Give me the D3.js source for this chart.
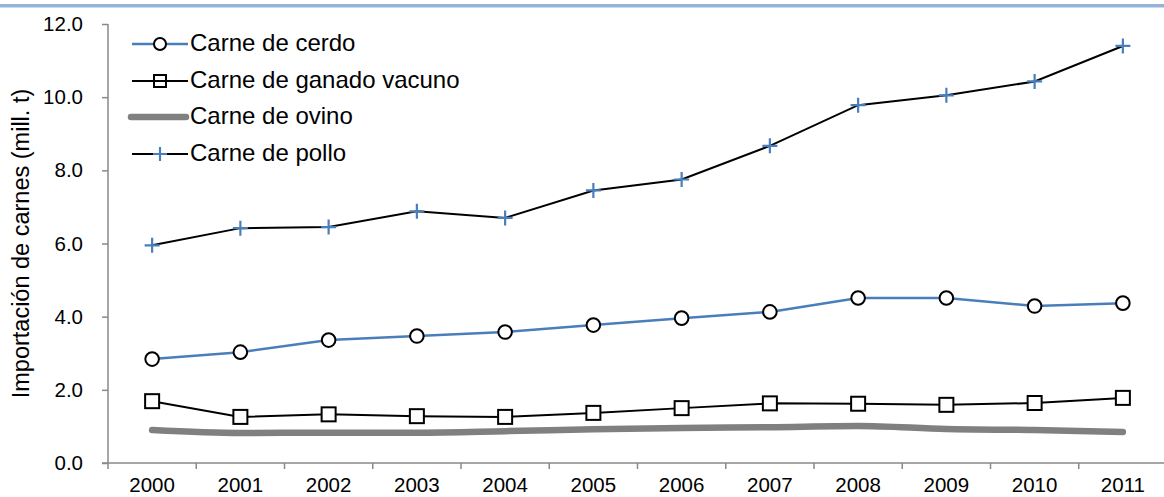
<!DOCTYPE html>
<html>
<head>
<meta charset="utf-8">
<script src="https://d3js.org/d3.v7.min.js"></script>
<style>
    body { margin: 0; background: #fff; }
    svg { display: block; font-family: "Liberation Sans", Arial, sans-serif; }
</style>
</head>
<body>
<div id="chart"></div>
<script>
    // data
    var years = ["2000", "2001", "2002", "2003", "2004", "2005", "2006", "2007", "2008", "2009", "2010", "2011"];
    var cerdo = [2.84, 3.03, 3.36, 3.47, 3.58, 3.77, 3.96, 4.13, 4.51, 4.51, 4.29, 4.37];
    var vacuno = [1.69, 1.26, 1.33, 1.28, 1.26, 1.37, 1.50, 1.63, 1.62, 1.59, 1.64, 1.78];
    var ovino = [0.90, 0.82, 0.83, 0.83, 0.87, 0.92, 0.96, 0.98, 1.01, 0.93, 0.90, 0.85];
    var pollo = [5.95, 6.42, 6.45, 6.88, 6.70, 7.45, 7.75, 8.67, 9.78, 10.05, 10.43, 11.40];
    var yTicks = [0, 2, 4, 6, 8, 10, 12];
    var seriesNames = ["Carne de cerdo", "Carne de ganado vacuno", "Carne de ovino", "Carne de pollo"];

    var width = 1164, height = 497;
    var margin = {top: 24, left: 108, bottom: 34};
    var plotRight = 1167;

    var svg = d3.select("#chart").append("svg")
        .attr("width", width)
        .attr("height", height);

    // blue band along the top
    svg.append("rect")
        .attr("x", 0).attr("y", 4)
        .attr("width", width).attr("height", 3.5)
        .attr("fill", "#95b3d7");

    var x = d3.scaleBand()
        .domain(years)
        .range([margin.left, plotRight]);

    var y = d3.scaleLinear()
        .domain([0, 12])
        .range([height - margin.bottom, margin.top]);

    var axisColor = "#898989";

    // y axis
    var yAxis = svg.append("g")
        .attr("transform", `translate(${margin.left},0)`)
        .call(d3.axisLeft(y).tickValues(yTicks).tickFormat(d3.format(".1f")).tickSize(6).tickPadding(19));
    yAxis.select(".domain").attr("stroke", axisColor).attr("stroke-width", 1.5).attr("d", `M0,${y(12)}V${y(0)}`);
    yAxis.selectAll(".tick line").attr("stroke", axisColor).attr("stroke-width", 1.5);
    yAxis.selectAll(".tick text")
        .attr("font-size", 20.5).attr("fill", "#000")
        .attr("font-family", "Liberation Sans, Arial, sans-serif");

    // x axis, ticks between categories
    var bounds = d3.range(years.length + 1).map(i => margin.left + i * x.bandwidth());
    var xg = svg.append("g");
    xg.append("line")
        .attr("x1", margin.left - 6).attr("x2", width)
        .attr("y1", y(0)).attr("y2", y(0))
        .attr("stroke", axisColor).attr("stroke-width", 1.5);
    xg.selectAll(".xt").data(bounds).join("line")
        .attr("x1", d => d).attr("x2", d => d)
        .attr("y1", y(0)).attr("y2", y(0) + 6)
        .attr("stroke", axisColor).attr("stroke-width", 1.5);
    xg.selectAll(".xl").data(years).join("text")
        .attr("x", d => x(d) + x.bandwidth() / 2)
        .attr("y", y(0) + 29)
        .attr("text-anchor", "middle")
        .attr("font-size", 20.5)
        .text(d => d);

    // y label
    svg.append("text")
        .attr("transform", `translate(29,${(y(0) + y(12)) / 2}) rotate(-90)`)
        .attr("text-anchor", "middle")
        .attr("font-size", 23.5)
        .text("Importación de carnes (mill. t)");

    var cx = (d, i) => x(years[i]) + x.bandwidth() / 2;
    var line = d3.line().x(cx).y(d => y(d));

    // ovino, thick smooth grey
    svg.append("path")
        .datum(ovino)
        .attr("d", d3.line().x(cx).y(d => y(d)).curve(d3.curveMonotoneX))
        .attr("fill", "none")
        .attr("stroke", "#808080")
        .attr("stroke-width", 6.5)
        .attr("stroke-linecap", "round");

    // vacuno
    svg.append("path").datum(vacuno).attr("d", line)
        .attr("fill", "none").attr("stroke", "#000").attr("stroke-width", 2);
    svg.selectAll(".sq").data(vacuno).join("rect")
        .attr("x", (d, i) => cx(d, i) - 7).attr("y", d => y(d) - 7)
        .attr("width", 14).attr("height", 14)
        .attr("fill", "#fff").attr("stroke", "#000").attr("stroke-width", 2);

    // cerdo
    svg.append("path").datum(cerdo).attr("d", line)
        .attr("fill", "none").attr("stroke", "#4a7ebb").attr("stroke-width", 2.5);
    svg.selectAll(".ci").data(cerdo).join("circle")
        .attr("cx", cx).attr("cy", d => y(d)).attr("r", 6.8)
        .attr("fill", "#fff").attr("stroke", "#000").attr("stroke-width", 2);

    // pollo
    svg.append("path").datum(pollo).attr("d", line)
        .attr("fill", "none").attr("stroke", "#000").attr("stroke-width", 2);
    svg.selectAll(".pl").data(pollo).join("path")
        .attr("d", (d, i) => `M${cx(d, i) - 7.5},${y(d)}h15M${cx(d, i)},${y(d) - 7.5}v15`)
        .attr("stroke", "#4a7ebb").attr("stroke-width", 2.2);

    // legend
    var lx0 = 132, lx1 = 188, lm = 160;
    var rows = [44, 81, 117, 154];
    var leg = svg.append("g");
    // cerdo
    leg.append("line").attr("x1", lx0).attr("x2", lx1).attr("y1", rows[0]).attr("y2", rows[0])
        .attr("stroke", "#4a7ebb").attr("stroke-width", 2.5);
    leg.append("circle").attr("cx", lm).attr("cy", rows[0]).attr("r", 6)
        .attr("fill", "#fff").attr("stroke", "#000").attr("stroke-width", 2);
    // vacuno
    leg.append("line").attr("x1", lx0).attr("x2", lx1).attr("y1", rows[1]).attr("y2", rows[1])
        .attr("stroke", "#000").attr("stroke-width", 2);
    leg.append("rect").attr("x", lm - 6).attr("y", rows[1] - 6).attr("width", 12).attr("height", 12)
        .attr("fill", "none").attr("stroke", "#000").attr("stroke-width", 2);
    // ovino
    leg.append("line").attr("x1", lx0 - 1).attr("x2", lx1 - 2).attr("y1", rows[2]).attr("y2", rows[2])
        .attr("stroke", "#808080").attr("stroke-width", 6.5).attr("stroke-linecap", "round");
    // pollo
    leg.append("line").attr("x1", lx0).attr("x2", lx1).attr("y1", rows[3]).attr("y2", rows[3])
        .attr("stroke", "#000").attr("stroke-width", 2);
    leg.append("path").attr("d", `M${lm - 7},${rows[3]}h14M${lm},${rows[3] - 7}v14`)
        .attr("stroke", "#4a7ebb").attr("stroke-width", 2.2);

    leg.selectAll(".lt").data(seriesNames).join("text")
        .attr("x", 190)
        .attr("y", (d, i) => rows[i] + 7)
        .attr("font-size", 24)
        .text(d => d);
</script>
</body>
</html>
